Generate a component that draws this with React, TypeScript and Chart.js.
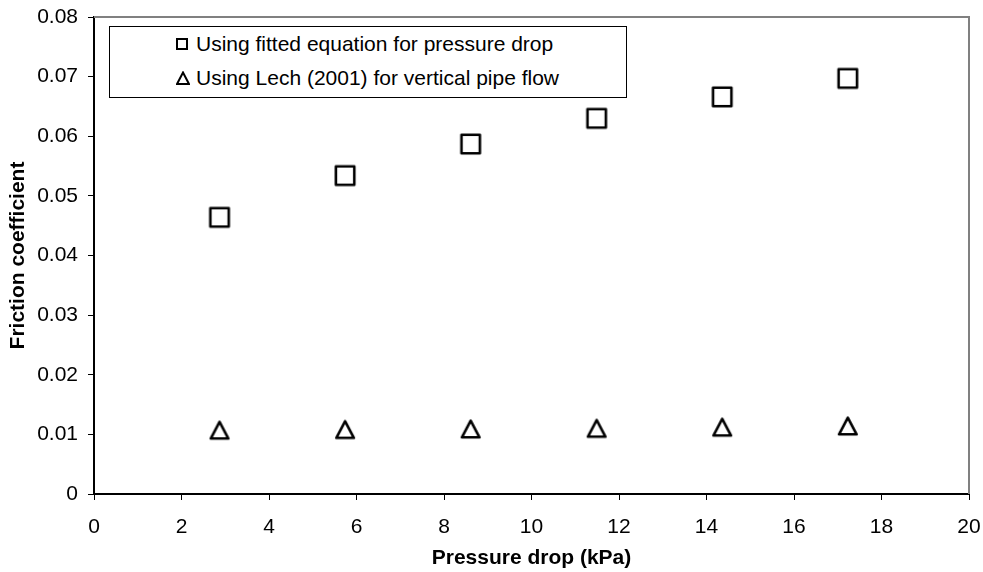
import React, { useEffect, useRef } from "react";
import { Chart, registerables } from "chart.js";

Chart.register(...registerables);

const PRESSURE_DROP = [2.87, 5.74, 8.61, 11.49, 14.36, 17.23];
const FITTED = [0.0464, 0.0534, 0.0587, 0.063, 0.0666, 0.0697];
const LECH = [0.0107, 0.0108, 0.0109, 0.011, 0.0112, 0.0114];
const SERIES_LABELS = [
  "Using fitted equation for pressure drop",
  "Using Lech (2001) for vertical pipe flow",
];
const X_TICKS = ["0", "2", "4", "6", "8", "10", "12", "14", "16", "18", "20"];
const Y_TICKS = ["0", "0.01", "0.02", "0.03", "0.04", "0.05", "0.06", "0.07", "0.08"];
const X_TITLE = "Pressure drop (kPa)";
const Y_TITLE = "Friction coefficient";

const FONT = "Arial, 'Liberation Sans', sans-serif";

function makeSquare(): HTMLCanvasElement {
  const c = document.createElement("canvas");
  c.width = 26;
  c.height = 26;
  const ctx = c.getContext("2d")!;
  ctx.strokeStyle = "#000";
  ctx.lineWidth = 2.6;
  ctx.lineJoin = "round";
  ctx.strokeRect(13 - 9.2, 13 - 9.2, 18.4, 18.4);
  return c;
}

function makeTriangle(): HTMLCanvasElement {
  const c = document.createElement("canvas");
  c.width = 26;
  c.height = 26;
  const ctx = c.getContext("2d")!;
  ctx.strokeStyle = "#000";
  ctx.lineWidth = 2.6;
  ctx.lineJoin = "round";
  ctx.beginPath();
  ctx.moveTo(13, 13 - 8.3);
  ctx.lineTo(13 + 8.8, 13 + 8.3);
  ctx.lineTo(13 - 8.8, 13 + 8.3);
  ctx.closePath();
  ctx.stroke();
  return c;
}

const frameLines = {
  id: "frameLines",
  afterDraw(chart: any) {
    const { ctx, chartArea } = chart;
    ctx.save();
    ctx.strokeStyle = "#808080";
    ctx.lineWidth = 2;
    ctx.beginPath();
    ctx.moveTo(chartArea.left, chartArea.top);
    ctx.lineTo(chartArea.right, chartArea.top);
    ctx.lineTo(chartArea.right, chartArea.bottom);
    ctx.stroke();
    ctx.restore();
  },
};

export default function App() {
  const ref = useRef<HTMLCanvasElement | null>(null);

  useEffect(() => {
    document.body.style.margin = "0";
    document.body.style.overflow = "hidden";
    const canvas = ref.current;
    if (!canvas) return;
    Chart.defaults.font.family = FONT;
    Chart.defaults.color = "#000";
    const sq = makeSquare();
    const tri = makeTriangle();
    const chart = new Chart(canvas, {
      type: "scatter",
      data: {
        datasets: [
          {
            label: SERIES_LABELS[0],
            data: PRESSURE_DROP.map((x, i) => ({ x, y: FITTED[i] })),
            pointStyle: sq as any,
            pointRadius: 10,
            borderColor: "#000",
            backgroundColor: "transparent",
          },
          {
            label: SERIES_LABELS[1],
            data: PRESSURE_DROP.map((x, i) => ({ x, y: LECH[i] })),
            pointStyle: tri as any,
            pointRadius: 10,
            borderColor: "#000",
            backgroundColor: "transparent",
          },
        ],
      },
      options: {
        responsive: false,
        animation: false,
        devicePixelRatio: 1,
        layout: { padding: { top: 17, right: 14, left: 0, bottom: 0 } },
        plugins: {
          legend: { display: false },
          tooltip: { enabled: false },
        },
        scales: {
          x: {
            type: "linear",
            min: 0,
            max: 20,
            afterFit: (s: any) => {
              s.height = 78;
              s.paddingLeft = 0;
              s.paddingRight = 0;
            },
            ticks: {
              stepSize: 2,
              padding: 15,
              font: { size: 21 },
              callback: (v: any) => {
                const k = Math.round(Number(v) / 2);
                return X_TICKS[k] ?? String(v);
              },
            },
            grid: {
              drawOnChartArea: false,
              drawTicks: true,
              tickLength: 6,
              color: "#000",
              lineWidth: 1,
            },
            border: { display: true, color: "#000", width: 2 },
            title: {
              display: true,
              text: X_TITLE,
              font: { size: 21, weight: "bold" },
              padding: { top: 0, bottom: 1 },
            },
          },
          y: {
            type: "linear",
            min: 0,
            max: 0.08,
            afterFit: (s: any) => {
              s.width = 94;
              s.paddingTop = 0;
              s.paddingBottom = 0;
            },
            ticks: {
              stepSize: 0.01,
              padding: 10,
              font: { size: 21 },
              callback: (v: any) => {
                const k = Math.round(Number(v) / 0.01);
                return Y_TICKS[k] ?? String(v);
              },
            },
            grid: {
              drawOnChartArea: false,
              drawTicks: true,
              tickLength: 6,
              color: "#000",
              lineWidth: 1,
            },
            border: { display: true, color: "#000", width: 2 },
            title: {
              display: true,
              text: Y_TITLE,
              font: { size: 21, weight: "bold" },
              padding: { top: 6, bottom: 0 },
            },
          },
        },
      },
      plugins: [frameLines],
    });
    return () => chart.destroy();
  }, []);

  const rowStyle: React.CSSProperties = {
    position: "absolute",
    left: 66,
    height: 26,
    display: "flex",
    alignItems: "center",
    fontFamily: FONT,
    fontSize: 21,
    color: "#000",
    whiteSpace: "nowrap",
  };

  return (
    <div style={{ position: "relative", width: 983, height: 572, background: "#fff" }}>
      <canvas ref={ref} width={983} height={572} style={{ display: "block" }} />
      <div
        style={{
          position: "absolute",
          left: 109,
          top: 26,
          width: 518,
          height: 72,
          border: "1px solid #000",
          boxSizing: "border-box",
          background: "#fff",
        }}
      >
        <div style={{ ...rowStyle, top: 4 }}>
          <span
            style={{
              display: "inline-block",
              width: 12,
              height: 12,
              border: "2px solid #000",
              boxSizing: "border-box",
              marginRight: 8,
            }}
          />
          <span>{SERIES_LABELS[0]}</span>
        </div>
        <div style={{ ...rowStyle, top: 38 }}>
          <svg width={14} height={14} style={{ marginRight: 6 }}>
            <polygon points="7,1.5 13,13 1,13" fill="none" stroke="#000" strokeWidth={2} />
          </svg>
          <span>{SERIES_LABELS[1]}</span>
        </div>
      </div>
    </div>
  );
}
